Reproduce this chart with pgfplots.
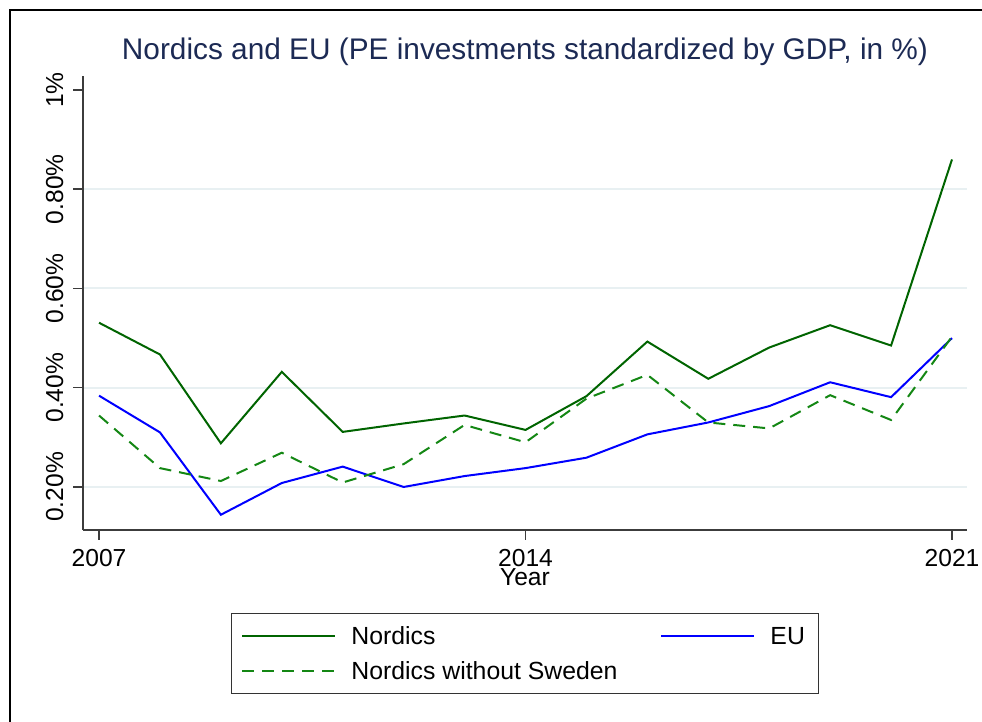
\documentclass[border=0pt]{standalone}
\usepackage{fontspec}
\setmainfont{Liberation Sans}
\usepackage{pgfplots}
\usepackage{pgfplotstable}
\pgfplotsset{compat=1.18}

\definecolor{ttl}{RGB}{28,42,84}
\definecolor{dkgrn}{RGB}{0,100,0}
\definecolor{grn}{RGB}{20,135,20}
\definecolor{grd}{RGB}{232,240,242}
\definecolor{axc}{RGB}{60,60,60}

% PE investments / GDP, in %
\pgfplotstableread{
year nordics eu    nowse
2007 0.531   0.384 0.344
2008 0.467   0.310 0.238
2009 0.288   0.144 0.212
2010 0.432   0.208 0.269
2011 0.311   0.241 0.209
2012 0.328   0.200 0.246
2013 0.344   0.222 0.325
2014 0.315   0.238 0.290
2015 0.383   0.259 0.378
2016 0.493   0.306 0.426
2017 0.418   0.330 0.330
2018 0.481   0.363 0.318
2019 0.526   0.411 0.385
2020 0.485   0.381 0.335
2021 0.860   0.500 0.503
}\pedata

\begin{document}
\begin{tikzpicture}
\path[use as bounding box] (0pt,0pt) rectangle (491pt,361pt);
\draw[line width=1pt] (5pt,0pt) -- (5pt,356pt) -- (491pt,356pt);
\begin{axis}[
    at={(41.5pt,96pt)}, anchor=south west,
    scale only axis, width=442pt, height=227pt,
    xmin=2006.737, xmax=2021.246,
    ymin=0.1133, ymax=1.0282,
    axis x line*=bottom, axis y line*=left,
    axis line style={axc, line width=1pt, -},
    tick style={axc, line width=0.75pt},
    tick align=outside, major tick length=5pt,
    xtick={2007,2014,2021}, xticklabels={2007,2014,2021},
    ytick={0.2,0.4,0.6,0.8},
    yticklabels={0.20\%,0.40\%,0.60\%,0.80\%},
    extra y ticks={1}, extra y tick labels={1\%},
    extra y tick style={grid=none},
    ymajorgrids, grid style={grd, line width=1pt},
    ticklabel style={font=\fontsize{12.3}{14}\selectfont, inner sep=0pt},
    xticklabel style={anchor=base},
    xticklabel shift=13.5pt,
    yticklabel style={rotate=90, anchor=base},
    yticklabel shift=5pt,
    xlabel={Year},
    xlabel style={at={(axis description cs:0.5,0)}, anchor=base, yshift=-28pt,
        inner sep=0pt, font=\fontsize{12.3}{14}\selectfont},
    title={Nordics and EU (PE investments standardized by GDP, in \%)},
    title style={at={(axis description cs:0.5,1)}, anchor=base, yshift=2.5pt,
        inner sep=0pt, color=ttl, font=\fontsize{14.9}{17}\selectfont},
    no markers,
    legend columns=2,
    legend cell align=left,
    legend style={at={(axis description cs:0.5,-0.1828)}, anchor=north,
        draw=black!80, line width=0.75pt, inner xsep=5pt, inner ysep=4pt,
        column sep=7.5pt, row sep=3pt,
        nodes={inner sep=0pt, text height=11.5pt, text depth=3pt,
            font=\fontsize{12.4}{14}\selectfont}},
    legend image code/.code={\draw[#1] (0pt,0pt) -- (46.5pt,0pt);},
]
\addplot[dkgrn, line width=1pt] table[x=year, y=nordics] {\pedata};
\addlegendentry{\makebox[147pt][l]{Nordics}}
\addplot[blue, line width=1pt] table[x=year, y=eu] {\pedata};
\addlegendentry{\makebox[19pt][l]{EU}}
\addplot[grn, line width=1pt, dash pattern=on 6pt off 4pt] table[x=year, y=nowse] {\pedata};
\addlegendentry{Nordics without Sweden}
\end{axis}
\end{tikzpicture}
\end{document}
